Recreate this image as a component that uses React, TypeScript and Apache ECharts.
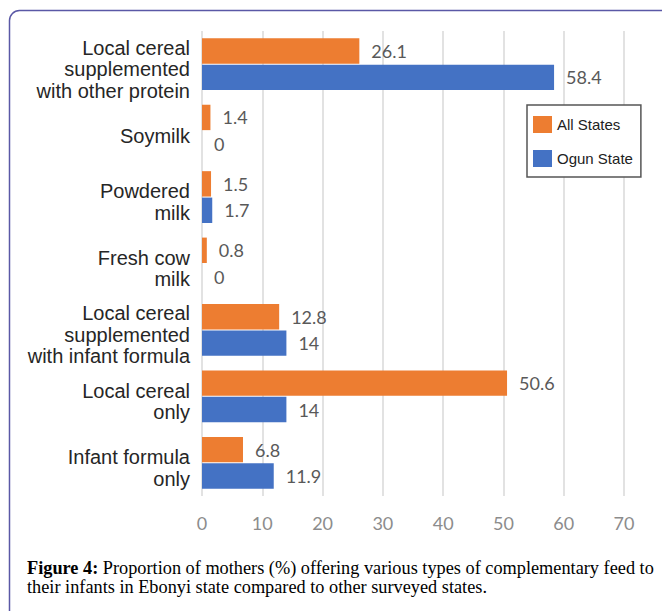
import React, { useEffect, useRef } from "react";
import * as echarts from "echarts";

const categories = [
  "Local cereal\nsupplemented\nwith other protein",
  "Soymilk",
  "Powdered\nmilk",
  "Fresh cow\nmilk",
  "Local cereal\nsupplemented\nwith infant formula",
  "Local cereal\nonly",
  "Infant formula\nonly",
];
const allStates = [26.1, 1.4, 1.5, 0.8, 12.8, 50.6, 6.8];
const ogunState = [58.4, 0, 1.7, 0, 14, 14, 11.9];
const seriesNames = ["All States", "Ogun State"];
const captionBold = "Figure 4:";
const captionLine1 = " Proportion of mothers (%) offering various types of complementary feed to";
const captionLine2 = "their infants in Ebonyi state compared to other surveyed states.";

export default function App() {
  const ref = useRef<HTMLDivElement>(null);
  useEffect(() => {
    document.body.style.margin = "0";
    const chart = echarts.init(ref.current!, null, { renderer: "svg" });
    const valueLabel = {
      show: true,
      position: "right",
      distance: 12,
      color: "#595959",
      fontFamily: "Lato",
      fontSize: 18,
    };
    chart.setOption({
      animation: false,
      backgroundColor: "#ffffff",
      grid: { left: 202, right: 38, top: 31, bottom: 115, containLabel: false },
      legend: {
        orient: "vertical",
        left: 527,
        top: 105,
        width: 111,
        height: 84,
        padding: [11, 8, 10, 6],
        itemWidth: 19,
        itemHeight: 17,
        itemGap: 17,
        icon: "rect",
        borderColor: "#555555",
        borderWidth: 1.5,
        backgroundColor: "#ffffff",
        textStyle: { fontFamily: "Liberation Sans", fontSize: 15, color: "#222222" },
        data: seriesNames,
      },
      xAxis: {
        type: "value",
        min: 0,
        max: 70,
        interval: 10,
        axisLine: { show: false },
        axisTick: { show: false },
        axisLabel: { color: "#8c8c8c", fontFamily: "Lato", fontSize: 18, margin: 18 },
        splitLine: { lineStyle: { color: "#d9d9d9", width: 1.5 } },
      },
      yAxis: {
        type: "category",
        inverse: true,
        data: categories,
        axisLine: { show: false },
        axisTick: { show: false },
        axisLabel: {
          interval: 0,
          hideOverlap: false,
          color: "#262626",
          fontFamily: "Liberation Sans",
          fontSize: 20,
          lineHeight: 21.5,
          margin: 12,
          align: "right",
          formatter: (v: string) => "{s| }\n" + v,
          rich: { s: { fontSize: 2, lineHeight: 10 } },
        },
      },
      series: [
        {
          name: seriesNames[0],
          type: "bar",
          data: allStates,
          itemStyle: { color: "#ED7D31" },
          barGap: "4%",
          barCategoryGap: "22%",
          label: valueLabel,
        },
        {
          name: seriesNames[1],
          type: "bar",
          data: ogunState,
          itemStyle: { color: "#4472C4" },
          barGap: "4%",
          barCategoryGap: "22%",
          label: valueLabel,
        },
      ],
      graphic: [
        {
          type: "rect",
          shape: { x: 9.5, y: 10.5, width: 700, height: 700, r: 10 },
          style: { fill: "none", stroke: "#5a58a6", lineWidth: 1.5 },
          z: 100,
        },
        {
          type: "text",
          left: 27,
          top: 558,
          style: {
            text: "{b|" + captionBold + "}" + captionLine1 + "\n" + captionLine2,
            fontFamily: "Liberation Serif",
            fontSize: 18.3,
            lineHeight: 19,
            fill: "#000000",
            rich: {
              b: { fontFamily: "Liberation Serif", fontSize: 18.3, fontWeight: "bold", lineHeight: 19 },
            },
          },
        },
      ],
    });
    return () => chart.dispose();
  }, []);
  return <div ref={ref} style={{ width: 662, height: 611 }} />;
}
